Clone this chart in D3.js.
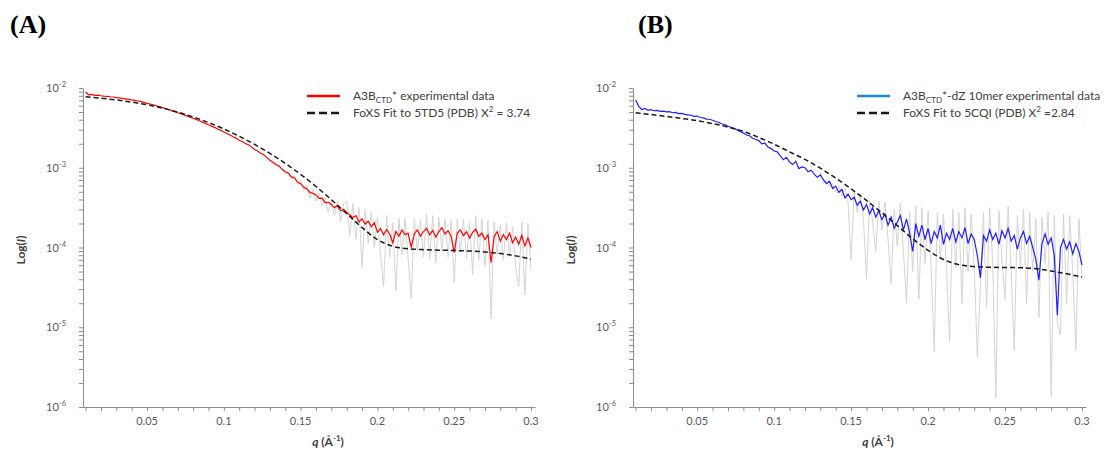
<!DOCTYPE html>
<html>
<head>
    <title>SAXS FoXS fits</title>
    <style type="text/css">
        body { margin: 0; background: #fff; }
        svg text { font-family: Lato, "Open Sans", sans-serif; }
        .tick-label { font-size: 11px; fill: #595959; }
        .axis-title { font-size: 12px; font-weight: bold; fill: #404040; }
        .legend text { font-size: 12px; fill: #404040; }
        .panel-label { font-family: "Liberation Serif", "DejaVu Serif", serif; font-size: 26px; font-weight: bold; fill: #000; }
    </style>
</head>
<body>
<script src="https://d3js.org/d3.v7.min.js" type="text/javascript"></script>
<script type="text/javascript">

// q (1/A) of the binned experimental curves
var qExp = [
    0.010, 0.012, 0.014, 0.016, 0.018, 0.020, 0.022, 0.024, 0.026, 0.028,
    0.030, 0.032, 0.034, 0.036, 0.038, 0.040, 0.042, 0.044, 0.046, 0.048,
    0.050, 0.052, 0.054, 0.056, 0.058, 0.060, 0.062, 0.064, 0.066, 0.068,
    0.070, 0.072, 0.074, 0.076, 0.078, 0.080, 0.082, 0.084, 0.086, 0.088,
    0.090, 0.092, 0.094, 0.096, 0.098, 0.100, 0.102, 0.104, 0.106, 0.108,
    0.110, 0.112, 0.114, 0.116, 0.118, 0.120, 0.122, 0.124, 0.126, 0.128,
    0.130, 0.132, 0.134, 0.136, 0.138, 0.140, 0.142, 0.144, 0.146, 0.148,
    0.150, 0.152, 0.154, 0.156, 0.158, 0.160, 0.162, 0.164, 0.166, 0.168,
    0.170, 0.172, 0.174, 0.176, 0.178, 0.180, 0.182, 0.184, 0.186, 0.188,
    0.190, 0.192, 0.194, 0.196, 0.198, 0.200, 0.202, 0.204, 0.206, 0.208,
    0.210, 0.212, 0.214, 0.216, 0.218, 0.220, 0.222, 0.224, 0.226, 0.228,
    0.230, 0.232, 0.234, 0.236, 0.238, 0.240, 0.242, 0.244, 0.246, 0.248,
    0.250, 0.252, 0.254, 0.256, 0.258, 0.260, 0.262, 0.264, 0.266, 0.268,
    0.270, 0.272, 0.274, 0.276, 0.278, 0.280, 0.282, 0.284, 0.286, 0.288,
    0.290, 0.292, 0.294, 0.296, 0.298, 0.300
];

// log10(I), A3B_CTD* experimental (red)
var logA = [
    -2.050, -2.085, -2.080, -2.092, -2.090, -2.097, -2.101, -2.104, -2.110, -2.113,
    -2.120, -2.124, -2.130, -2.136, -2.142, -2.150, -2.156, -2.163, -2.171, -2.180,
    -2.192, -2.201, -2.211, -2.222, -2.233, -2.246, -2.258, -2.270, -2.283, -2.296,
    -2.310, -2.322, -2.337, -2.350, -2.366, -2.380, -2.395, -2.411, -2.428, -2.443,
    -2.460, -2.478, -2.494, -2.515, -2.531, -2.552, -2.570, -2.590, -2.611, -2.628,
    -2.655, -2.671, -2.695, -2.712, -2.738, -2.772, -2.790, -2.818, -2.836, -2.870,
    -2.905, -2.930, -2.962, -2.978, -3.020, -3.050, -3.070, -3.115, -3.128, -3.180,
    -3.200, -3.245, -3.262, -3.310, -3.322, -3.340, -3.385, -3.380, -3.440, -3.430,
    -3.460, -3.500, -3.475, -3.540, -3.520, -3.560, -3.590, -3.625, -3.600, -3.680,
    -3.640, -3.705, -3.670, -3.740, -3.690, -3.810, -3.760, -3.840, -3.775, -3.830,
    -3.940, -3.800, -3.860, -3.780, -3.840, -3.820, -4.000, -3.830, -3.780, -3.860,
    -3.800, -3.760, -3.840, -3.785, -3.870, -3.800, -3.750, -3.830, -3.790, -3.860,
    -4.060, -3.820, -3.780, -3.850, -3.800, -3.880, -3.810, -3.770, -3.860, -3.820,
    -3.900, -3.840, -4.190, -3.860, -3.800, -3.920, -3.840, -3.900, -3.820, -3.940,
    -3.870, -3.960, -3.850, -3.980, -3.880, -4.000
];

// log10(I), unbinned A3B_CTD* data (grey), from q = 0.130
var rawLogA = [
    -2.890, -2.950, -2.945, -3.000, -3.005, -3.075, -3.050, -3.140, -3.100, -3.210,
    -3.160, -3.290, -3.220, -3.380, -3.270, -3.420, -3.320, -3.470, -3.380, -3.560,
    -3.400, -3.600, -3.420, -3.680, -3.450, -3.420, -3.860, -3.450, -3.900, -3.500,
    -4.250, -3.520, -3.950, -3.560, -4.000, -3.620, -4.090, -4.490, -3.600, -4.120,
    -3.690, -4.540, -3.640, -4.090, -3.630, -4.140, -4.640, -3.640, -4.040, -3.660,
    -4.120, -3.580, -4.140, -3.600, -4.190, -3.620, -4.040, -3.640, -4.120, -3.660,
    -4.440, -3.640, -4.060, -3.650, -4.140, -3.680, -4.340, -3.600, -4.160, -3.640,
    -4.240, -3.660, -4.890, -3.680, -4.090, -3.720, -4.160, -3.690, -4.120, -3.740,
    -4.240, -4.490, -3.680, -4.590, -3.700, -4.290
];

// log10(I), A3B_CTD*-dZ 10mer experimental (blue)
var logB = [
    -2.150, -2.230, -2.270, -2.255, -2.280, -2.272, -2.285, -2.280, -2.292, -2.290,
    -2.300, -2.296, -2.310, -2.305, -2.320, -2.318, -2.330, -2.336, -2.342, -2.355,
    -2.352, -2.370, -2.375, -2.390, -2.392, -2.405, -2.420, -2.430, -2.452, -2.458,
    -2.480, -2.492, -2.505, -2.525, -2.548, -2.565, -2.590, -2.598, -2.630, -2.645,
    -2.660, -2.700, -2.690, -2.740, -2.760, -2.790, -2.800, -2.850, -2.900, -2.870,
    -2.930, -2.960, -2.920, -3.010, -2.990, -3.000, -3.050, -3.030, -3.080, -3.120,
    -3.090, -3.150, -3.200, -3.170, -3.260, -3.230, -3.310, -3.270, -3.380, -3.330,
    -3.400, -3.370, -3.470, -3.420, -3.530, -3.460, -3.580, -3.500, -3.620, -3.540,
    -3.650, -3.580, -3.720, -3.620, -3.760, -3.680, -3.600, -3.780, -3.640, -3.820,
    -4.050, -3.700, -3.860, -3.720, -3.900, -3.760, -3.950, -3.800, -3.880, -3.720,
    -3.960, -3.820, -3.900, -3.760, -3.930, -3.800, -3.880, -3.750, -3.950, -3.830,
    -3.900, -4.100, -4.380, -3.850, -3.920, -3.780, -3.900, -3.820, -3.960, -3.790,
    -3.880, -3.760, -3.920, -3.850, -4.020, -3.880, -3.800, -3.950, -3.860, -4.000,
    -4.150, -4.410, -3.950, -3.830, -3.960, -3.880, -4.100, -4.850, -4.000, -3.900,
    -4.020, -3.930, -4.080, -3.950, -4.050, -4.220
];

// log10(I), unbinned dZ 10mer data (grey), from q = 0.130
var rawLogB = [
    -3.050, -3.200, -3.160, -3.240, -3.200, -3.300, -3.220, -3.360, -3.260, -3.440,
    -4.150, -3.300, -3.560, -3.320, -3.650, -4.400, -3.400, -3.680, -4.050, -3.420,
    -3.780, -3.430, -3.900, -4.450, -3.520, -3.980, -3.440, -4.050, -4.700, -3.560,
    -4.300, -3.480, -4.650, -3.500, -4.200, -3.540, -4.250, -5.310, -3.560, -4.150,
    -3.580, -4.300, -5.180, -3.520, -4.250, -3.560, -4.700, -3.500, -4.300, -3.580,
    -4.250, -5.370, -4.500, -3.560, -4.750, -3.500, -4.200, -5.890, -3.540, -4.150,
    -4.650, -3.480, -4.300, -5.290, -3.600, -4.250, -3.520, -4.700, -3.560, -4.300,
    -3.640, -4.880, -3.620, -4.200, -3.560, -5.870, -3.600, -4.950, -5.100, -3.580,
    -4.700, -3.600, -4.300, -5.290, -3.640, -4.400
];
var RAW_START = 60; // index of q = 0.130 in qExp

// FoXS model curves
var qFit = [
    0.01, 0.02, 0.03, 0.04, 0.05, 0.06, 0.07, 0.08, 0.09, 0.10,
    0.11, 0.12, 0.13, 0.14, 0.15, 0.16, 0.17, 0.18, 0.19, 0.20,
    0.21, 0.22, 0.23, 0.24, 0.25, 0.26, 0.27, 0.28, 0.29, 0.30
];
var fitLogA = [
    -2.110, -2.128, -2.150, -2.177, -2.210, -2.252, -2.303, -2.363, -2.433, -2.514,
    -2.605, -2.707, -2.820, -2.945, -3.083, -3.235, -3.400, -3.575, -3.750, -3.900,
    -3.985, -4.015, -4.027, -4.033, -4.038, -4.044, -4.055, -4.075, -4.105, -4.145
];
var fitLogB = [
    -2.310, -2.333, -2.357, -2.382, -2.410, -2.446, -2.490, -2.545, -2.620, -2.705,
    -2.800, -2.895, -3.005, -3.130, -3.265, -3.410, -3.565, -3.725, -3.890, -4.035,
    -4.150, -4.215, -4.240, -4.248, -4.250, -4.254, -4.266, -4.295, -4.330, -4.372
];

var xLabelTicks = [0.05, 0.1, 0.15, 0.2, 0.25, 0.3];
var xLabelText = ['0.05', '0.1', '0.15', '0.2', '0.25', '0.3'];
var yDecades = [-2, -3, -4, -5, -6];

var panels = [
    { label: '(A)', labelX: 10, left: 83, right: 535,
      exp: logA, raw: rawLogA, fit: fitLogA, color: '#ff0000', legColor: '#ff0000', legX: 307,
      expText: '* experimental data', fitText: 'FoXS Fit to 5TD5 (PDB) X', chiText: ' = 3.74' },
    { label: '(B)', labelX: 638, left: 633, right: 1086,
      exp: logB, raw: rawLogB, fit: fitLogB, color: '#1f1fff', legColor: '#1a86e0', legX: 857,
      expText: '*-dZ 10mer experimental data', fitText: 'FoXS Fit to 5CQI (PDB) X', chiText: ' =2.84' }
];

var yTop = 88, yBottom = 407;

var svg = d3.select('body').append('svg')
    .attr('width', 1117)
    .attr('height', 452);
svg.append('rect').attr('width', 1117).attr('height', 452).attr('fill', '#fff');

panels.forEach(function (p) {
    var x = d3.scaleLinear().domain([0.0083, 0.3026]).range([p.left, p.right]);
    var y = d3.scaleLog().domain([1e-6, 1e-2]).range([yBottom, yTop]);
    var g = svg.append('g');

    // axes, Excel style: grey line, small outside ticks
    g.append('g')
        .attr('transform', 'translate(0,' + yBottom + ')')
        .call(d3.axisBottom(x).tickValues(d3.range(1, 31).map(function (i) { return i / 100; }))
            .tickSize(4).tickSizeOuter(0).tickFormat(''));
    g.append('g')
        .attr('transform', 'translate(' + p.left + ',0)')
        .call(d3.axisLeft(y).tickValues(y.ticks()).tickSize(4).tickSizeOuter(0).tickFormat(''));
    g.selectAll('.domain, .tick line').attr('stroke', '#8c8c8c');

    g.selectAll('.xlab').data(xLabelTicks).enter().append('text')
        .attr('class', 'tick-label')
        .attr('text-anchor', 'middle')
        .attr('x', function (d) { return x(d); })
        .attr('y', 425)
        .text(function (d, i) { return xLabelText[i]; });

    var yl = g.selectAll('.ylab').data(yDecades).enter().append('text')
        .attr('class', 'tick-label')
        .attr('text-anchor', 'end')
        .attr('x', p.left - 17)
        .attr('y', function (d) { return y(Math.pow(10, d)) + 4; });
    yl.append('tspan').text('10');
    yl.append('tspan').attr('dy', -5).attr('font-size', '7.5px').text(function (d) { return d; });

    // axis titles
    var xt = g.append('text').attr('class', 'axis-title')
        .attr('text-anchor', 'middle')
        .attr('x', p.left + 245).attr('y', 446);
    xt.append('tspan').attr('font-style', 'italic').text('q');
    xt.append('tspan').text(' (\u00c5');
    xt.append('tspan').attr('dy', -5).attr('font-size', '8px').text('-1');
    xt.append('tspan').attr('dy', 5).text(')');

    var yt = g.append('text').attr('class', 'axis-title')
        .attr('text-anchor', 'middle')
        .attr('transform', 'translate(' + (p.left - 58) + ',250) rotate(-90)');
    yt.append('tspan').text('Log(');
    yt.append('tspan').attr('font-style', 'italic').text('I');
    yt.append('tspan').text(')');

    g.append('text').attr('class', 'panel-label')
        .attr('x', p.labelX).attr('y', 33)
        .text(p.label);

    // data
    var line = d3.line()
        .x(function (d) { return x(d[0]); })
        .y(function (d) { return y(Math.pow(10, d[1])); });

    var rawPts = qExp.slice(RAW_START).map(function (q, i) { return [q, p.raw[i]]; });
    var expPts = qExp.map(function (q, i) { return [q, p.exp[i]]; });
    var fitPts = qFit.map(function (q, i) { return [q, p.fit[i]]; });

    g.append('path').datum(rawPts)
        .attr('d', line)
        .attr('fill', 'none')
        .attr('stroke', '#d4d4d4')
        .attr('stroke-width', 1);
    g.append('path').datum(expPts)
        .attr('d', line)
        .attr('fill', 'none')
        .attr('stroke', p.color)
        .attr('stroke-width', 1.2);
    g.append('path').datum(fitPts)
        .attr('d', line.curve(d3.curveMonotoneX))
        .attr('fill', 'none')
        .attr('stroke', '#1a1a1a')
        .attr('stroke-width', 1.5)
        .attr('stroke-dasharray', '5,3');

    // legend
    var leg = g.append('g').attr('class', 'legend');
    leg.append('line')
        .attr('x1', p.legX).attr('x2', p.legX + 33).attr('y1', 96).attr('y2', 96)
        .attr('stroke', p.legColor).attr('stroke-width', 2.5);
    leg.append('line')
        .attr('x1', p.legX).attr('x2', p.legX + 33).attr('y1', 113).attr('y2', 113)
        .attr('stroke', '#1a1a1a').attr('stroke-width', 2.5).attr('stroke-dasharray', '8,4');

    var t1 = leg.append('text').attr('x', p.legX + 46).attr('y', 100);
    t1.append('tspan').text('A3B');
    t1.append('tspan').attr('dy', 3).attr('font-size', '8px').text('CTD');
    t1.append('tspan').attr('dy', -3).text(p.expText);

    var t2 = leg.append('text').attr('x', p.legX + 46).attr('y', 117);
    t2.append('tspan').text(p.fitText);
    t2.append('tspan').attr('dy', -5).attr('font-size', '8px').text('2');
    t2.append('tspan').attr('dy', 5).text(p.chiText);
});

</script>
</body>
</html>
